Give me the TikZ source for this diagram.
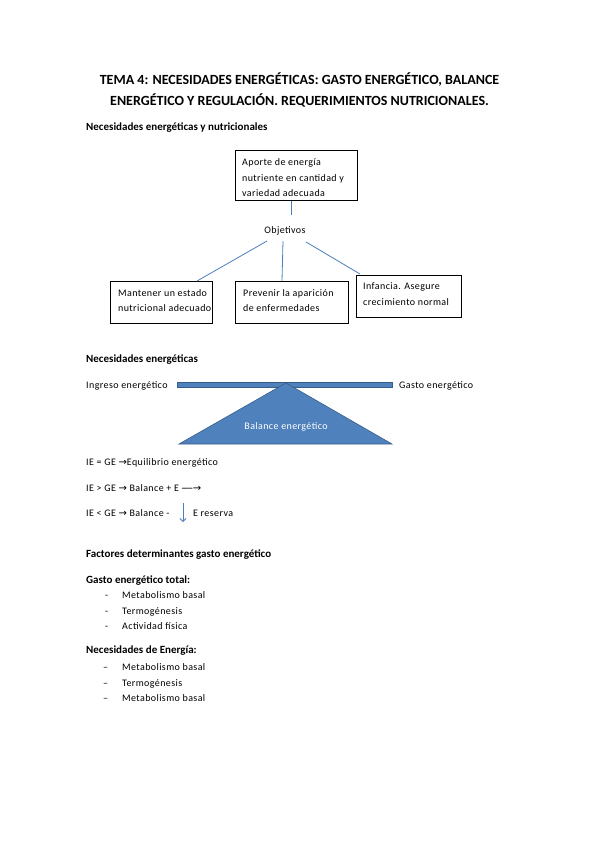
\documentclass[tikz,border=0pt]{standalone}
\usepackage{fontspec}
\setmainfont{Carlito}[LetterSpace=4]
\newfontfamily\hdfont{Carlito}
\newfontfamily\symf{DejaVu Sans}
\usetikzlibrary{arrows.meta}
\definecolor{wblue}{HTML}{4F81BD}
\definecolor{wblued}{HTML}{385D8A}
\definecolor{wline}{HTML}{4A7EBB}
\newcommand{\arr}{{\symf\fontsize{10}{10}\selectfont →}}
\begin{document}
\begin{tikzpicture}[x=1pt,y=-1pt,
  txt/.style={anchor=base west,inner sep=0pt,font=\fontsize{10}{12}\selectfont},
  hd/.style={anchor=base west,inner sep=0pt,font=\hdfont\fontsize{11}{13}\selectfont\bfseries},
  ttl/.style={anchor=base,inner sep=0pt,font=\hdfont\fontsize{14}{16}\selectfont\bfseries},
  box/.style={draw=black,line width=0.6pt,anchor=north west,inner sep=0pt},
  conn/.style={draw=wline,line width=0.8pt}]
\useasboundingbox (0,0) rectangle (599,848);
% title
\node[ttl] (t1) at (299.5,85) {TEMA 4: NECESIDADES ENERGÉTICAS: GASTO ENERGÉTICO, BALANCE};
\node[ttl] (t2) at (299.5,106) {ENERGÉTICO Y REGULACIÓN. REQUERIMIENTOS NUTRICIONALES.};
\node[hd] (h1) at (86,131) {Necesidades energéticas y nutricionales};
% top box
\node[box,minimum width=122pt,minimum height=50pt] (top) at (235,150) {};
\node[txt] (top1) at (242,165.5) {Aporte de energía};
\node[txt] (top2) at (242,181) {nutriente en cantidad y};
\node[txt] (top3) at (242,196.5) {variedad adecuada};
\node[anchor=base,inner sep=1pt,font=\fontsize{10}{12}\selectfont] (obj) at (285,233) {Objetivos};
\coordinate (tv) at (291,215);
\draw[conn] (top.south -| tv) -- (tv);
% lower boxes
\node[box,minimum width=102pt,minimum height=42pt] (b1) at (110,281) {};
\node[txt] (b1a) at (118,296) {Mantener un estado};
\node[txt] (b1b) at (118,311) {nutricional adecuado};
\node[box,minimum width=113pt,minimum height=42pt] (b2) at (235,281) {};
\node[txt] (b2a) at (243,296) {Prevenir la aparición};
\node[txt] (b2b) at (243,311) {de enfermedades};
\node[box,minimum width=105pt,minimum height=42pt] (b3) at (356,275) {};
\node[txt] (b3a) at (363,289) {Infancia. Asegure};
\node[txt] (b3b) at (363,305) {crecimiento normal};
\coordinate (o1) at (267,241);
\coordinate (o2) at (283,241);
\coordinate (o3) at (306,242);
\coordinate (e3) at (360,274);
\draw[conn] (o1) -- (b1.north -| 197,0);
\draw[conn] (o2) -- (b2.north -| 282,0);
\draw[conn] (o3) -- (e3);
% balance
\node[hd] (h2) at (86,362) {Necesidades energéticas};
\node[txt] (ie) at (86,388) {Ingreso energético};
\node[txt] (ge) at (399,388) {Gasto energético};
\draw[fill=wblue,draw=wblued,line width=0.6pt] (177,382) rectangle (392,387);
\coordinate (apex) at (286,383);
\draw[fill=wblue,draw=wblued,line width=0.6pt] (apex) -- (392,444) -- (179,444) -- cycle;
\node[anchor=base,inner sep=0pt,text=white,font=\fontsize{10}{12}\selectfont] (be) at (286,429) {Balance energético};
% equations
\node[txt] (q1) at (86,465) {IE = GE \arr Equilibrio energético};
\node[txt] (q2) at (86,491) {IE > GE \arr{} Balance + E -{\kern-1pt}-{\kern-1pt}-{\kern-1pt}-{\kern-1pt}-\arr};
\node[txt] (q3) at (86,516) {IE < GE \arr{} Balance -};
\node[txt] (q4) at (193,516) {E reserva};
\coordinate (da) at (183,503);
\coordinate (db) at (183,522);
\draw[wline,line width=0.8pt,-{Straight Barb[length=3pt,width=6pt]}] (da) -- (db);
% lists
\node[hd] (h3) at (86,557) {Factores determinantes gasto energético};
\node[hd] (h4) at (86,583) {Gasto energético total:};
\node[txt] (d1) at (105,598) {-};
\node[txt] (l1) at (122,598) {Metabolismo basal};
\node[txt] (d2) at (105,614) {-};
\node[txt] (l2) at (122,614) {Termogénesis};
\node[txt] (d3) at (105,629) {-};
\node[txt] (l3) at (122,629) {Actividad física};
\node[hd] (h5) at (86,653) {Necesidades de Energía:};
\node[txt] (m1) at (103,670) {–};
\node[txt] (n1) at (122,670) {Metabolismo basal};
\node[txt] (m2) at (103,686) {–};
\node[txt] (n2) at (122,686) {Termogénesis};
\node[txt] (m3) at (103,701) {–};
\node[txt] (n3) at (122,701) {Metabolismo basal};
\end{tikzpicture}
\end{document}
